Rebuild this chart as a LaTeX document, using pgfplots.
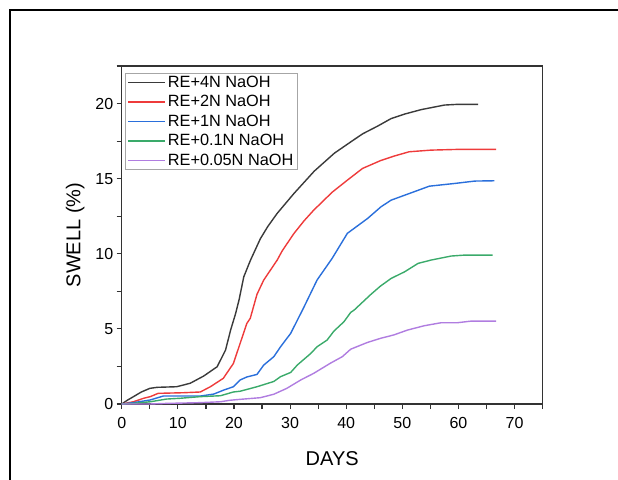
\documentclass[border=0pt]{standalone}
\usepackage{pgfplots}
\pgfplotsset{compat=1.18}
\usepackage{fontspec}
\setmainfont{Liberation Sans}
\definecolor{cfour}{HTML}{3A3A3A}
\definecolor{ctwo}{HTML}{EE3B3B}
\definecolor{cone}{HTML}{2A6FDB}
\definecolor{cpone}{HTML}{3AAA6A}
\definecolor{cpfive}{HTML}{B07DE0}
\begin{document}
\begin{tikzpicture}
 \useasboundingbox (0pt,0pt) rectangle (618pt,479pt);
 \draw[line width=1.8pt] (10pt,-5pt) -- (10pt,469pt) -- (625pt,469pt);
 \begin{axis}[at={(121.7pt,75pt)},anchor=south west,scale only axis,width=421pt,height=338pt,
  xmin=0,xmax=75,ymin=0,ymax=22.5,
  xtick={0,10,...,70},minor xtick={5,15,...,75},
  ytick={0,5,...,20},minor ytick={2.5,7.5,...,22.5},
  tick pos=left,tick align=outside,
  major tick length=5pt,minor tick length=5pt,
  axis line style={line width=1.2pt,black!80},
  every tick/.style={line width=1.2pt,black!80},
  tick label style={font=\fontsize{16}{19}\selectfont},
  xticklabel style={yshift=-5pt},
  /pgf/number format/assume math mode=true,
  xlabel={DAYS},ylabel={SWELL (\%)},
  label style={font=\fontsize{20}{24}\selectfont},
  xlabel style={yshift=-16pt},ylabel style={yshift=4pt},
  legend style={at={(0.008,0.979)},anchor=north west,draw=gray!70,line width=0.8pt,
   font=\fontsize{16.3}{19}\selectfont,inner xsep=2pt,inner ysep=0.5pt,row sep=2.6pt},
  legend cell align=left,
  legend image code/.code={\draw[#1] (0pt,0pt) -- (37pt,0pt);},
  every axis plot/.append style={line width=1.4pt,no markers}]
  \addplot[cfour] coordinates {(0,0)(1,0.25)(2.1,0.49)(3.5,0.8)(5,1.04)(6.3,1.11)(9.8,1.15)(12.2,1.38)(14.6,1.86)(17,2.48)(18.5,3.59)(19.4,4.92)(20.3,6.03)(20.9,6.92)(21.75,8.47)(22.95,9.58)(24.7,11.0)(26,11.8)(27.7,12.69)(30.7,14.02)(34.3,15.5)(37.9,16.7)(41.4,17.6)(43,18.0)(45.6,18.5)(48,19.0)(50.4,19.3)(53.4,19.6)(57.5,19.9)(60,19.95)(63.5,19.95)};
  \addlegendentry{RE+4N NaOH}
  \addplot[ctwo] coordinates {(0,0)(2.1,0.15)(3.9,0.38)(5.1,0.49)(6.5,0.71)(11,0.75)(14,0.8)(15.8,1.15)(18.1,1.71)(19.9,2.7)(21.1,4.04)(22.3,5.37)(22.9,5.7)(24.1,7.3)(25.3,8.25)(27.7,9.58)(28.6,10.2)(30.7,11.36)(32.5,12.2)(34.2,12.9)(37.5,14.1)(40.2,14.9)(42.9,15.68)(46.1,16.2)(48.5,16.5)(51.2,16.79)(55.1,16.9)(60,16.95)(66.7,16.95)};
  \addlegendentry{RE+2N NaOH}
  \addplot[cone] coordinates {(0,0)(2.1,0.09)(5.1,0.27)(7.4,0.53)(14,0.53)(16.4,0.66)(18.2,0.93)(19.9,1.15)(21.1,1.6)(22.3,1.8)(24.1,1.97)(25.3,2.59)(27.1,3.15)(28.3,3.81)(30.1,4.7)(31.9,6.03)(32.4,6.4)(34.8,8.25)(37.5,9.7)(40.2,11.36)(43.8,12.35)(46.2,13.13)(48,13.57)(52.1,14.13)(54.8,14.5)(59.3,14.68)(62.9,14.84)(66.4,14.86)};
  \addlegendentry{RE+1N NaOH}
  \addplot[cpone] coordinates {(0,0)(2.1,0.04)(5.1,0.15)(8,0.33)(10.4,0.38)(14,0.49)(17.6,0.55)(19.9,0.8)(21.1,0.85)(24.1,1.15)(27.1,1.5)(28.3,1.82)(30.1,2.1)(31.3,2.6)(33.7,3.37)(34.8,3.81)(36.6,4.26)(37.8,4.85)(39.6,5.48)(40.8,6.1)(41.4,6.25)(44.4,7.3)(46.1,7.85)(48,8.36)(50.4,8.8)(52.8,9.36)(55.1,9.58)(58.7,9.85)(61,9.91)(66.1,9.91)};
  \addlegendentry{RE+0.1N NaOH}
  \addplot[cpfive] coordinates {(0,0)(5,0)(8,0.04)(14,0.09)(17.6,0.15)(19.3,0.25)(21.1,0.31)(24.7,0.42)(27.1,0.65)(29.4,1.04)(31.9,1.6)(34.2,2.04)(37.2,2.72)(39.3,3.15)(40.8,3.65)(43.8,4.1)(46.1,4.37)(48.5,4.6)(50.9,4.92)(53.9,5.21)(56.9,5.41)(59.8,5.41)(62.3,5.52)(66.7,5.52)};
  \addlegendentry{RE+0.05N NaOH}
 \end{axis}
\end{tikzpicture}
\end{document}
